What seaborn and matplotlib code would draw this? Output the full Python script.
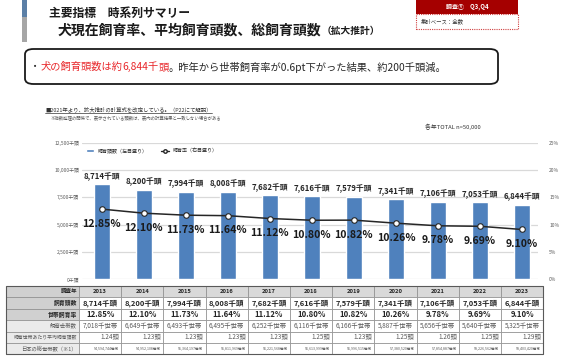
import numpy as np
import seaborn as sns
import matplotlib.pyplot as plt
from matplotlib.patches import Rectangle, FancyBboxPatch
from matplotlib.lines import Line2D

years = ['2013', '2014', '2015', '2016', '2017', '2018', '2019', '2020', '2021', '2022', '2023']
heads = [8714, 8200, 7994, 8008, 7682, 7616, 7579, 7341, 7106, 7053, 6844]
rate = [12.85, 12.10, 11.73, 11.64, 11.12, 10.80, 10.82, 10.26, 9.78, 9.69, 9.10]
households = [7018, 6649, 6493, 6495, 6252, 6116, 6166, 5887, 5656, 5640, 5325]
avg_heads = [1.24, 1.23, 1.23, 1.23, 1.23, 1.25, 1.23, 1.25, 1.26, 1.25, 1.29]
total_households = [54594744, 54952108, 55364197, 55811969, 56221568, 56613999,
                    56996515, 57380520, 57854887, 58226562, 58403420]
left_ticks = [0, 2500, 5000, 7500, 10000, 12500]
right_ticks = [0, 5, 10, 15, 20, 25]

sns.set_theme(style='white')
plt.rcParams['font.family'] = ['Noto Sans CJK JP', 'DejaVu Sans']

W, H = 567, 360
fig = plt.figure(figsize=(W / 100, H / 100), dpi=100)
rend = fig.canvas.get_renderer()


def fx(x):
    return x / W


def fy(y):
    return 1 - y / H


def rect(x, y, w, h, **kw):
    fig.patches.append(Rectangle((fx(x), fy(y + h)), w / W, h / H,
                                 transform=fig.transFigure, **kw))


def txt(x, y, s, size, **kw):
    kw.setdefault('va', 'center')
    return fig.text(fx(x), fy(y), s, fontsize=size, **kw)


# header
rect(22, 0, 5, 17, color='#5B7FA6', lw=0)
rect(22, 17, 5, 25, color='#A6A6A6', lw=0)
txt(49, 13, '主要指標　時系列サマリー', 8.5, weight='bold', color='#1a1a1a')
t = txt(58, 30, '犬現在飼育率、平均飼育頭数、総飼育頭数', 10, weight='bold', color='#1a1a1a')
bb = t.get_window_extent(rend)
txt(bb.x1, 31, '（拡大推計）', 7, weight='bold', color='#1a1a1a')

rect(416, 0, 102, 14, color='#A50000', lw=0)
txt(467, 7, '調査①　Q3,Q4', 4.3, color='white', ha='center', weight='bold')
rect(416, 14, 102, 15, fill=False, ec='#D04040', lw=0.8, ls=(0, (1, 1)))
txt(421, 21.5, '集計ベース：全数', 3.9, color='#333333')

# summary box
fig.patches.append(FancyBboxPatch((fx(25), fy(84)), 473 / W, 35 / H,
                                  boxstyle='round,pad=0,rounding_size=0.015',
                                  transform=fig.transFigure, fc='white', ec='#1a1a1a', lw=1.3))
red = '#E8262A'
pieces = [('・', '#262626', None), ('犬の飼育頭数は約', red, None), ('6,844千', red, '#A8C4E2'),
          ('頭', red, None), ('。昨年から世帯飼育率が0.6pt下がった結果、約200千頭減。', '#262626', None)]
x = 30
for s, c, bg in pieces:
    t = txt(x, 67, s, 7.4, color=c)
    bb = t.get_window_extent(rend)
    if bg:
        rect(x, 58, bb.width, 18, color=bg, lw=0, zorder=-1)
    x += bb.width

t = txt(45, 109, '■2021年より、拡大推計の計算式を改定している。（P22にて解説）', 3.9, color='#333333')
bb = t.get_window_extent(rend)
fig.add_artist(Line2D([fx(45), fx(45 + bb.width)], [fy(112.5), fy(112.5)], lw=0.5, color='#333333'))
txt(50, 119, '※指数処理の関係で、表示されている頭数は、表内の計算結果と一致しない場合がある', 3.2, color='#555555')
txt(481, 127, '各年TOTAL n=50,000', 4.2, ha='right', color='#333333')

# chart
ax = fig.add_axes([fx(82), fy(279), (538 - 82) / W, 136 / H])
sns.barplot(x=years, y=heads, color='#4F81BD', saturation=1, width=0.38, ax=ax, zorder=2)
ax.set_ylim(0, 12500)
ax.set_yticks(left_ticks)
ax.set_yticklabels([f'{v:,}千頭' for v in left_ticks], fontsize=3.5, color='#595959')
ax.yaxis.grid(True, color='#D9D9D9', lw=0.9)
ax.set_axisbelow(True)
ax.tick_params(axis='y', length=0, pad=2)
ax.set_xticks([])
ax.set_xlabel('')
ax.set_ylabel('')
sns.despine(ax=ax, left=True, bottom=True)
ax.bar_label(ax.containers[0], labels=[f'{v:,}千頭' for v in heads], padding=2.5,
             fontsize=5.6, weight='bold', color='#262626')

ax2 = ax.twinx()
pos = np.arange(len(years))
sns.lineplot(x=pos, y=rate, color='#262626', lw=1.1, marker='o', markersize=4,
             markerfacecolor='white', markeredgecolor='#262626', markeredgewidth=0.8, ax=ax2)
ax2.set_ylim(0, 25)
ax2.set_yticks(right_ticks)
ax2.set_yticklabels([f'{v}%' for v in right_ticks], fontsize=3.5, color='#595959')
ax2.tick_params(axis='y', length=0, pad=8)
ax2.grid(False)
ax2.set_ylabel('')
for s in ax2.spines.values():
    s.set_visible(False)
for i, r in enumerate(rate):
    ax2.annotate(f'{r:.2f}%', (i, r), xytext=(0, -10.5), textcoords='offset points',
                 ha='center', va='center', fontsize=7.6, weight='bold', color='#1a1a1a')
ax.set_xlim(-0.47, 10.38)

handles = [Rectangle((0, 0), 1, 1, fc='#4F81BD'),
           Line2D([], [], color='#262626', lw=1, marker='o', ms=2.5, mfc='white', mec='#262626')]
fig.legend(handles, ['飼育頭数（左目盛り）', '飼育率（右目盛り）'], loc='center left',
           bbox_to_anchor=(fx(86), fy(151)), ncol=2, frameon=False, fontsize=3.6,
           handlelength=1.6, handleheight=0.6, columnspacing=2.5, borderaxespad=0, borderpad=0)

# table
row_y = [286 + 11.4 * j for j in range(7)]
col_x = [6, 79] + [79 + 42.2 * (i + 1) for i in range(len(years))]
row_labels = ['調査年', '飼育頭数', '世帯飼育率', '飼育世帯数', '飼育世帯あたり平均飼育頭数', '日本の総世帯数（※1）']
rows = [years,
        [f'{v:,}千頭' for v in heads],
        [f'{v:.2f}%' for v in rate],
        [f'{v:,}千世帯' for v in households],
        [f'{v:.2f}頭' for v in avg_heads],
        [f'{v:,}世帯' for v in total_households]]
label_sizes = [4, 4.2, 4.2, 3.9, 3.5, 3.8]
cell_sizes = [4.2, 5.4, 5.6, 4.6, 4.6, 2.6]
for j in range(6):
    y0, y1 = row_y[j], row_y[j + 1]
    yc = (y0 + y1) / 2
    dark = j < 3
    rect(col_x[0], y0, col_x[1] - col_x[0], y1 - y0,
         fc='#D0D0D0' if dark else '#EBEBEB', ec='#8C8C8C', lw=0.5)
    txt(col_x[1] - 2, yc, row_labels[j], label_sizes[j], ha='right',
        weight='bold' if dark else 'normal', color='#262626' if dark else '#595959')
    for i in range(len(years)):
        xa, xb = col_x[i + 1], col_x[i + 2]
        rect(xa, y0, xb - xa, y1 - y0, fc='#D9D9D9' if j == 0 else 'white', ec='#8C8C8C', lw=0.5)
        if j in (4, 5):
            txt(xb - 2, yc, rows[j][i], cell_sizes[j], ha='right', color='#595959')
        else:
            txt((xa + xb) / 2, yc, rows[j][i], cell_sizes[j], ha='center',
                weight='bold' if dark else 'normal', color='#262626' if dark else '#595959')
rect(col_x[0], row_y[0], col_x[-1] - col_x[0], row_y[-1] - row_y[0], fill=False, ec='#595959', lw=0.8)

fig.savefig('out.png', dpi=100)
